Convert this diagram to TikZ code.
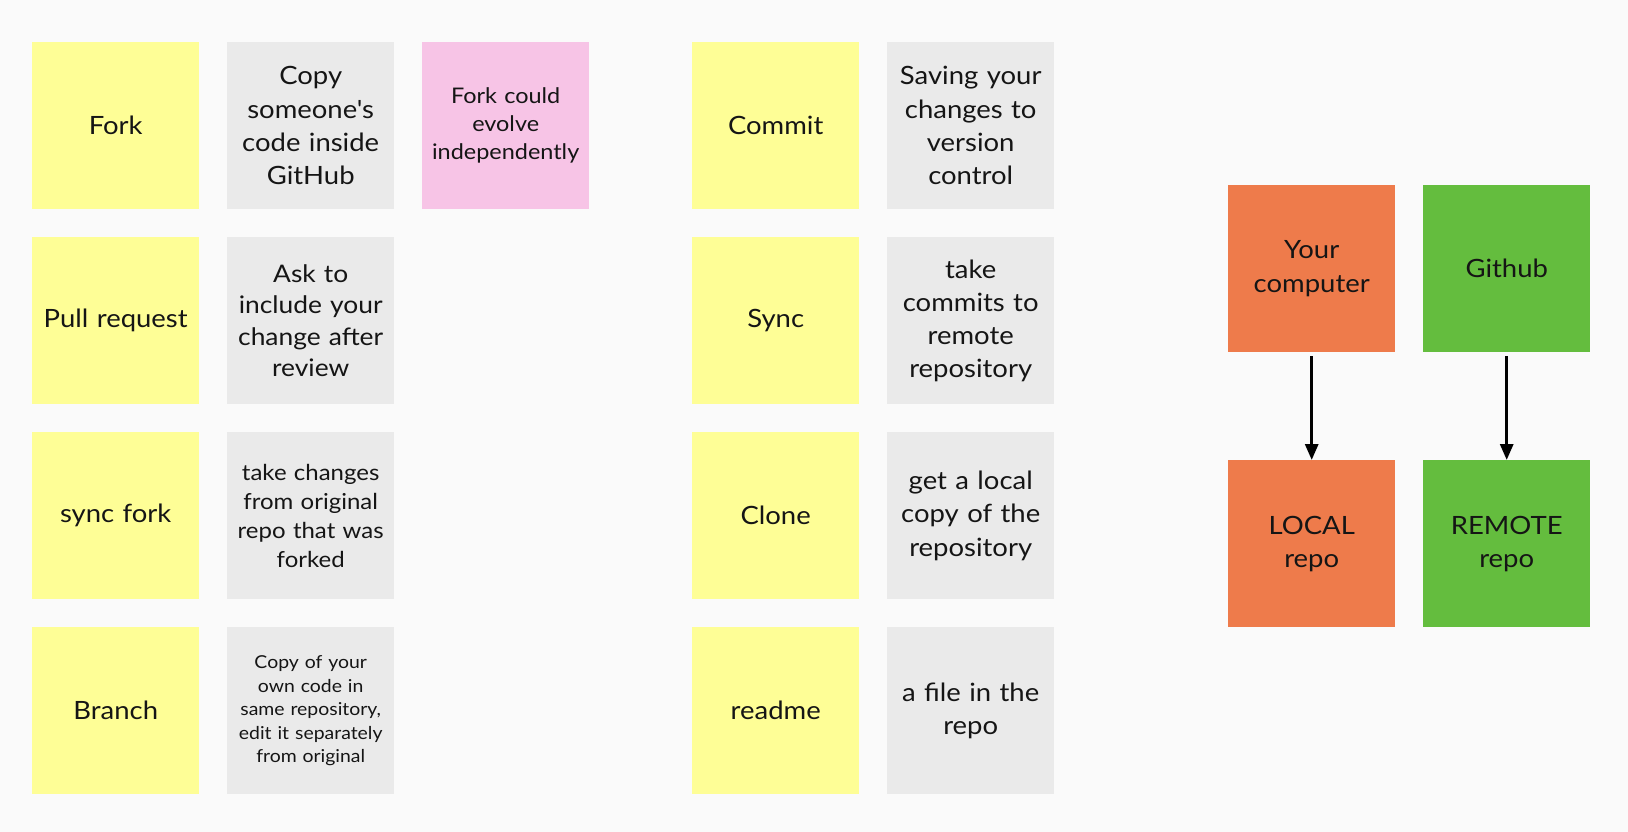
\documentclass[tikz,border=0pt]{standalone}
\usepackage{fontspec}
\setmainfont{Lato}[FakeStretch=1.09, Ligatures=TeXOff]
\usetikzlibrary{arrows.meta}
\definecolor{bg}{HTML}{FAFAFA}
\definecolor{yel}{HTML}{FEFE96}
\definecolor{gry}{HTML}{EAEAEA}
\definecolor{pnk}{HTML}{F7C4E6}
\definecolor{org}{HTML}{EE7B4B}
\definecolor{grn}{HTML}{64BD3E}
\definecolor{ink}{HTML}{151515}
\tikzset{
  card/.style={minimum width=167pt, minimum height=167pt, inner sep=0pt, anchor=north west,
    align=center, text width=164pt, text=ink, font=\fontsize{25.2}{33.2}\selectfont},
  yelcard/.style={card, fill=yel},
  grycard/.style={card, fill=gry},
  pnkcard/.style={card, fill=pnk},
  orgcard/.style={card, fill=org},
  grncard/.style={card, fill=grn},
  flow/.style={line width=3pt, draw=black, -{Triangle[width=13pt,length=16pt]}, shorten <=4pt}
}
\begin{document}
\begin{tikzpicture}[x=1pt,y=-1pt]
\fill[bg] (0,0) rectangle (1628,832);
\useasboundingbox (0,0) rectangle (1628,832);
% left block
\node[yelcard] (fork) at (32,42) {Fork};
\node[grycard] (forkd) at (227,42) {Copy\\someone's\\code inside\\GitHub};
\node[pnkcard, font=\fontsize{21.5}{28}\selectfont] (forkn) at (422,42) {Fork could\\evolve\\independently};
\node[yelcard] (pr) at (32,237) {Pull request};
\node[grycard, font=\fontsize{24.2}{31.5}\selectfont] (prd) at (227,237) {Ask to\\include your\\change after\\review};
\node[yelcard] (sf) at (32,432) {sync fork};
\node[grycard, font=\fontsize{22}{29}\selectfont] (sfd) at (227,432) {take changes\\from original\\repo that was\\forked};
\node[yelcard] (br) at (32,627) {Branch};
\node[grycard, font=\fontsize{17.8}{23.5}\selectfont] (brd) at (227,627) {Copy of your\\own code in\\same repository,\\edit it separately\\from original};
% middle block
\node[yelcard] (cm) at (692,42) {Commit};
\node[grycard] (cmd) at (887,42) {Saving your\\changes to\\version\\control};
\node[yelcard] (sy) at (692,237) {Sync};
\node[grycard] (syd) at (887,237) {take\\commits to\\remote\\repository};
\node[yelcard] (cl) at (692,432) {Clone};
\node[grycard] (cld) at (887,432) {get a local\\copy of the\\repository};
\node[yelcard] (rd) at (692,627) {readme};
\node[grycard] (rdd) at (887,627) {a file in the\\repo};
% right block
\node[orgcard] (yc) at (1228,185) {Your\\computer};
\node[grncard] (gh) at (1423,185) {Github};
\node[orgcard] (lr) at (1228,460) {LOCAL\\repo};
\node[grncard] (rr) at (1423,460) {REMOTE\\repo};
\draw[flow] (yc.south) -- (lr.north);
\draw[flow] (gh.south) -- (rr.north);
\end{tikzpicture}
\end{document}
